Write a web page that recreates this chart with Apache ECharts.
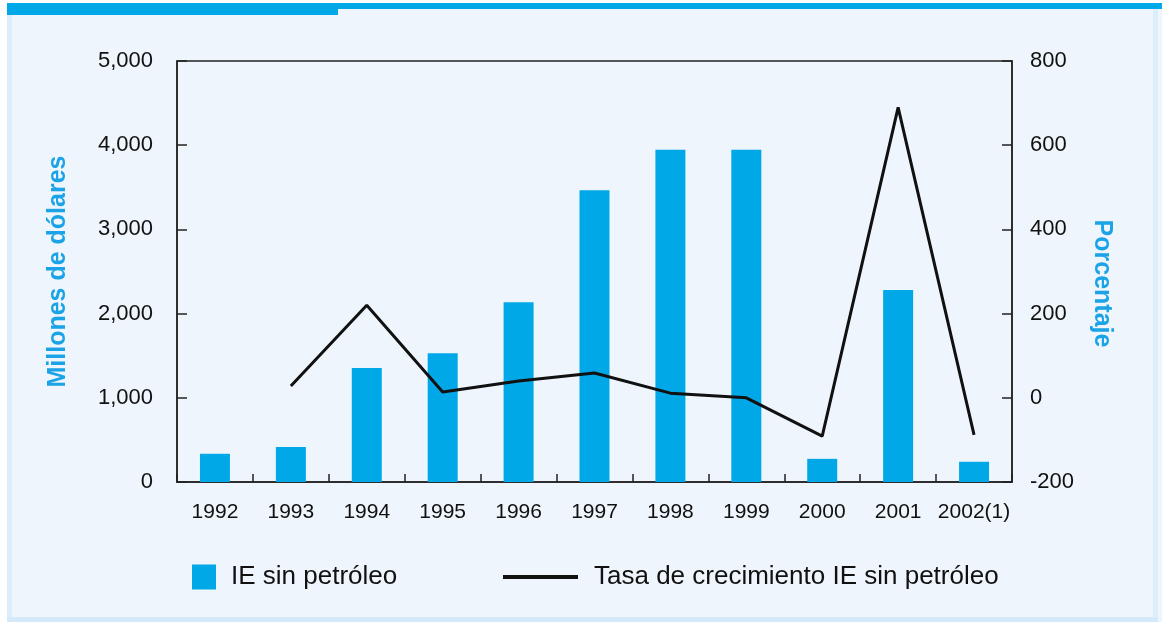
<!DOCTYPE html>
<html>
<head>
<meta charset="utf-8">
<script src="https://cdn.jsdelivr.net/npm/echarts@6/dist/echarts.min.js"></script>
<style>
html,body{margin:0;padding:0;background:#ffffff;}
#c{width:1162px;height:622px;}
</style>
</head>
<body>
<div id="c"></div>
<script>
const categories = ['1992','1993','1994','1995','1996','1997','1998','1999','2000','2001','2002(1)'];
const ieSinPetroleo = [335, 415, 1355, 1530, 2135, 3465, 3945, 3945, 275, 2280, 240];
const tasaCrecimiento = [null, 28, 220, 14, 40, 59, 11, 0, -91, 690, -88];
const leftTicks = {min: 0, max: 5000, interval: 1000};
const rightTicks = {min: -200, max: 800, interval: 200};

const SANS = '"Liberation Sans",Arial,sans-serif';
const BLUE = '#00A8E8';

const chart = echarts.init(document.getElementById('c'), null, {renderer: 'canvas'});
chart.setOption({
  backgroundColor: '#ffffff',
  animation: false,
  graphic: [
    {type: 'rect', shape: {x: 7, y: 3, width: 1162, height: 619}, style: {fill: '#EEF5FC'}, z: -10},
    {type: 'rect', shape: {x: 7, y: 3, width: 5, height: 619}, style: {fill: '#DCEDFB'}, z: -9},
    {type: 'rect', shape: {x: 1153, y: 3, width: 5, height: 619}, style: {fill: '#DCEDFB'}, z: -9},
    {type: 'rect', shape: {x: 7, y: 617, width: 1151, height: 5}, style: {fill: '#D4E9FA'}, z: -9},
    {type: 'rect', shape: {x: 7, y: 3, width: 331, height: 12}, style: {fill: BLUE}, z: -8},
    {type: 'rect', shape: {x: 338, y: 3, width: 824, height: 6}, style: {fill: BLUE}, z: -8}
  ],
  grid: {left: 177, right: 150, top: 61, bottom: 140, show: true, borderColor: '#222', borderWidth: 1.5, backgroundColor: 'transparent'},
  legend: [
    {
      data: [{name: 'IE sin petróleo', icon: 'rect'}],
      left: 187, top: 559, itemWidth: 24, itemHeight: 25, itemGap: 10,
      textStyle: {fontFamily: SANS, fontSize: 26, color: '#111', padding: [0, 0, 0, 10]}
    },
    {
      data: [{name: 'Tasa de crecimiento IE sin petróleo', icon: 'rect'}],
      left: 498, top: 559, itemWidth: 75, itemHeight: 4, itemGap: 10,
      textStyle: {fontFamily: SANS, fontSize: 26, color: '#111', padding: [0, 0, 0, 11]}
    }
  ],
  xAxis: {
    type: 'category',
    data: categories,
    boundaryGap: true,
    axisLine: {lineStyle: {color: '#222', width: 1.5}},
    axisTick: {show: true, inside: true, length: 8, alignWithLabel: false, lineStyle: {color: '#222', width: 1.5}},
    axisLabel: {fontFamily: SANS, fontSize: 21, color: '#111', margin: 20, interval: 0}
  },
  yAxis: [
    {
      type: 'value', position: 'left',
      min: leftTicks.min, max: leftTicks.max, interval: leftTicks.interval,
      name: 'Millones de dólares', nameLocation: 'middle', nameGap: 106,
      nameTextStyle: {fontFamily: SANS, fontSize: 25, color: '#1AA3E6', fontWeight: 'bold'},
      axisLine: {show: true, lineStyle: {color: '#222', width: 1.5}},
      axisTick: {show: true, inside: true, length: 10, lineStyle: {color: '#222', width: 1.5}},
      axisLabel: {fontFamily: SANS, fontSize: 22, color: '#111', margin: 24, formatter: v => v.toLocaleString('en-US')},
      splitLine: {show: false}
    },
    {
      type: 'value', position: 'right',
      min: rightTicks.min, max: rightTicks.max, interval: rightTicks.interval,
      name: 'Porcentaje', nameLocation: 'middle', nameGap: 77, nameRotate: -90,
      nameTextStyle: {fontFamily: SANS, fontSize: 25, color: '#1AA3E6', fontWeight: 'bold', padding: [0, 0, 0, 24]},
      axisLine: {show: true, lineStyle: {color: '#222', width: 1.5}},
      axisTick: {show: true, inside: true, length: 10, lineStyle: {color: '#222', width: 1.5}},
      axisLabel: {fontFamily: SANS, fontSize: 22, color: '#111', margin: 18},
      splitLine: {show: false}
    }
  ],
  series: [
    {
      name: 'IE sin petróleo', type: 'bar', yAxisIndex: 0,
      data: ieSinPetroleo, barWidth: 30,
      itemStyle: {color: BLUE}
    },
    {
      name: 'Tasa de crecimiento IE sin petróleo', type: 'line', yAxisIndex: 1,
      data: tasaCrecimiento, symbol: 'none', connectNulls: false,
      lineStyle: {color: '#111', width: 3}, itemStyle: {color: '#111'}
    }
  ]
});
</script>
</body>
</html>
